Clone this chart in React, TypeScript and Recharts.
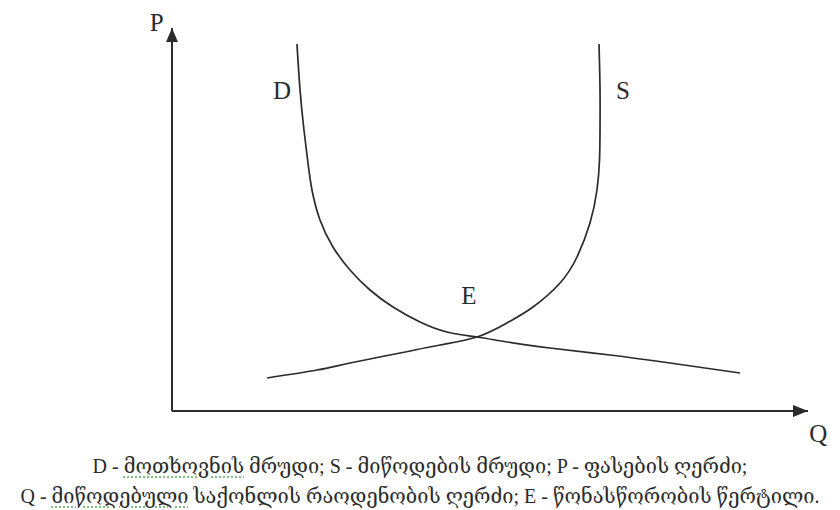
import React from "react";
import { LineChart, Line, XAxis, YAxis, ReferenceDot, ReferenceLine } from "recharts";

// demand curve D, read top to bottom (Q, P in axis units 0..100)
const demandQ = [19.65, 20.13, 20.75, 21.38, 22.01, 23.27, 25.31, 27.99, 31.13, 34.75, 38.99, 43.24, 47.96, 52.67, 59.43, 68.87, 78.3, 89.31];
const demandP = [95.82, 83.81, 73.37, 64.75, 57.7, 49.87, 42.82, 36.81, 31.59, 27.15, 23.24, 20.63, 19.32, 18.02, 16.45, 14.62, 12.53, 9.92];

// supply curve S, read top to bottom
const supplyQ = [67.14, 67.3, 67.3, 67.22, 66.82, 65.72, 63.68, 61.01, 56.76, 52.67, 47.96, 42.14, 35.85, 27.99, 22.8, 14.94];
const supplyP = [95.82, 83.81, 73.37, 65.54, 57.7, 49.09, 40.21, 33.42, 27.15, 22.98, 19.32, 17.23, 15.14, 12.53, 10.7, 8.62];

const curveLabels = ["D", "S", "E"];
const labelQ = [17.3, 70.9, 46.7];
const labelP = [83.8, 83.8, 30.3];

const captionLines = [
  "D - მოთხოვნის მრუდი; S - მიწოდების მრუდი; P - ფასების ღერძი;",
  "Q - მიწოდებული საქონლის რაოდენობის ღერძი; E - წონასწორობის წერტილი.",
];
// words carrying the green spell-check underline in the source
const markedWords = ["მოთხოვნის", "მიწოდებული"];

const demandData = demandQ.map((q, i) => ({ q, p: demandP[i] }));
const supplyData = supplyQ.map((q, i) => ({ q, p: supplyP[i] }));

const INK = "#2b2b2b";
const SERIF = "'Liberation Serif', 'DejaVu Serif', 'DejaVu Sans', serif";

const ArrowUp = (props: any) => {
  const { cx, cy } = props;
  return <path d={`M${cx},${cy} L${cx - 6},${cy + 14} L${cx + 6},${cy + 14} Z`} fill={INK} />;
};

const ArrowRight = (props: any) => {
  const { cx, cy } = props;
  return <path d={`M${cx},${cy} L${cx - 15},${cy - 6} L${cx - 15},${cy + 6} Z`} fill={INK} />;
};

const renderLine = (line: string) =>
  line.split(" ").map((word, i) => (
    <React.Fragment key={i}>
      {i > 0 ? " " : ""}
      {markedWords.includes(word) ? (
        <span
          style={{
            textDecorationLine: "underline",
            textDecorationStyle: "dotted",
            textDecorationColor: "#7fbf7f",
            textUnderlineOffset: 3,
          }}
        >
          {word}
        </span>
      ) : (
        word
      )}
    </React.Fragment>
  ));

export default function App() {
  return (
    <div style={{ position: "absolute", left: 0, top: 0, width: 840, height: 510, background: "#fff" }}>
      <LineChart width={840} height={510} margin={{ top: 28, right: 32, bottom: 99, left: 172 }}>
        <XAxis type="number" dataKey="q" domain={[0, 100]} allowDataOverflow hide />
        <YAxis type="number" dataKey="p" domain={[0, 100]} allowDataOverflow hide />
        {/* axes drawn as segments so they reach the arrow tips */}
        <ReferenceLine
          segment={[{ x: 0, y: 0 }, { x: 100, y: 0 }]}
          stroke={INK}
          strokeWidth={2}
          ifOverflow="visible"
        />
        <ReferenceLine
          segment={[{ x: 0, y: 0 }, { x: 0, y: 100 }]}
          stroke={INK}
          strokeWidth={2}
          ifOverflow="visible"
        />
        <Line
          data={demandData}
          dataKey="p"
          type="natural"
          stroke={INK}
          strokeWidth={1.7}
          dot={false}
          isAnimationActive={false}
        />
        <Line
          data={supplyData}
          dataKey="p"
          type="natural"
          stroke={INK}
          strokeWidth={1.7}
          dot={false}
          isAnimationActive={false}
        />
        <ReferenceDot x={0} y={100} ifOverflow="visible" shape={ArrowUp} />
        <ReferenceDot x={100} y={0} ifOverflow="visible" shape={ArrowRight} />
        <ReferenceDot
          x={-2.4}
          y={101.6}
          r={0}
          ifOverflow="visible"
          label={{ value: "P", position: "center", fill: INK, fontSize: 25, fontFamily: SERIF }}
        />
        <ReferenceDot
          x={101.6}
          y={-5.7}
          r={0}
          ifOverflow="visible"
          label={{ value: "Q", position: "center", fill: INK, fontSize: 25, fontFamily: SERIF }}
        />
        {curveLabels.map((name, i) => (
          <ReferenceDot
            key={name}
            x={labelQ[i]}
            y={labelP[i]}
            r={0}
            ifOverflow="visible"
            label={{ value: name, position: "center", fill: INK, fontSize: 25, fontFamily: SERIF }}
          />
        ))}
      </LineChart>
      <div
        style={{
          position: "absolute",
          left: 0,
          top: 451,
          width: 840,
          textAlign: "center",
          fontFamily: SERIF,
          fontSize: 20,
          lineHeight: "30px",
          color: INK,
        }}
      >
        {captionLines.map((line) => (
          <div key={line} style={{ whiteSpace: "nowrap" }}>
            {renderLine(line)}
          </div>
        ))}
      </div>
    </div>
  );
}
